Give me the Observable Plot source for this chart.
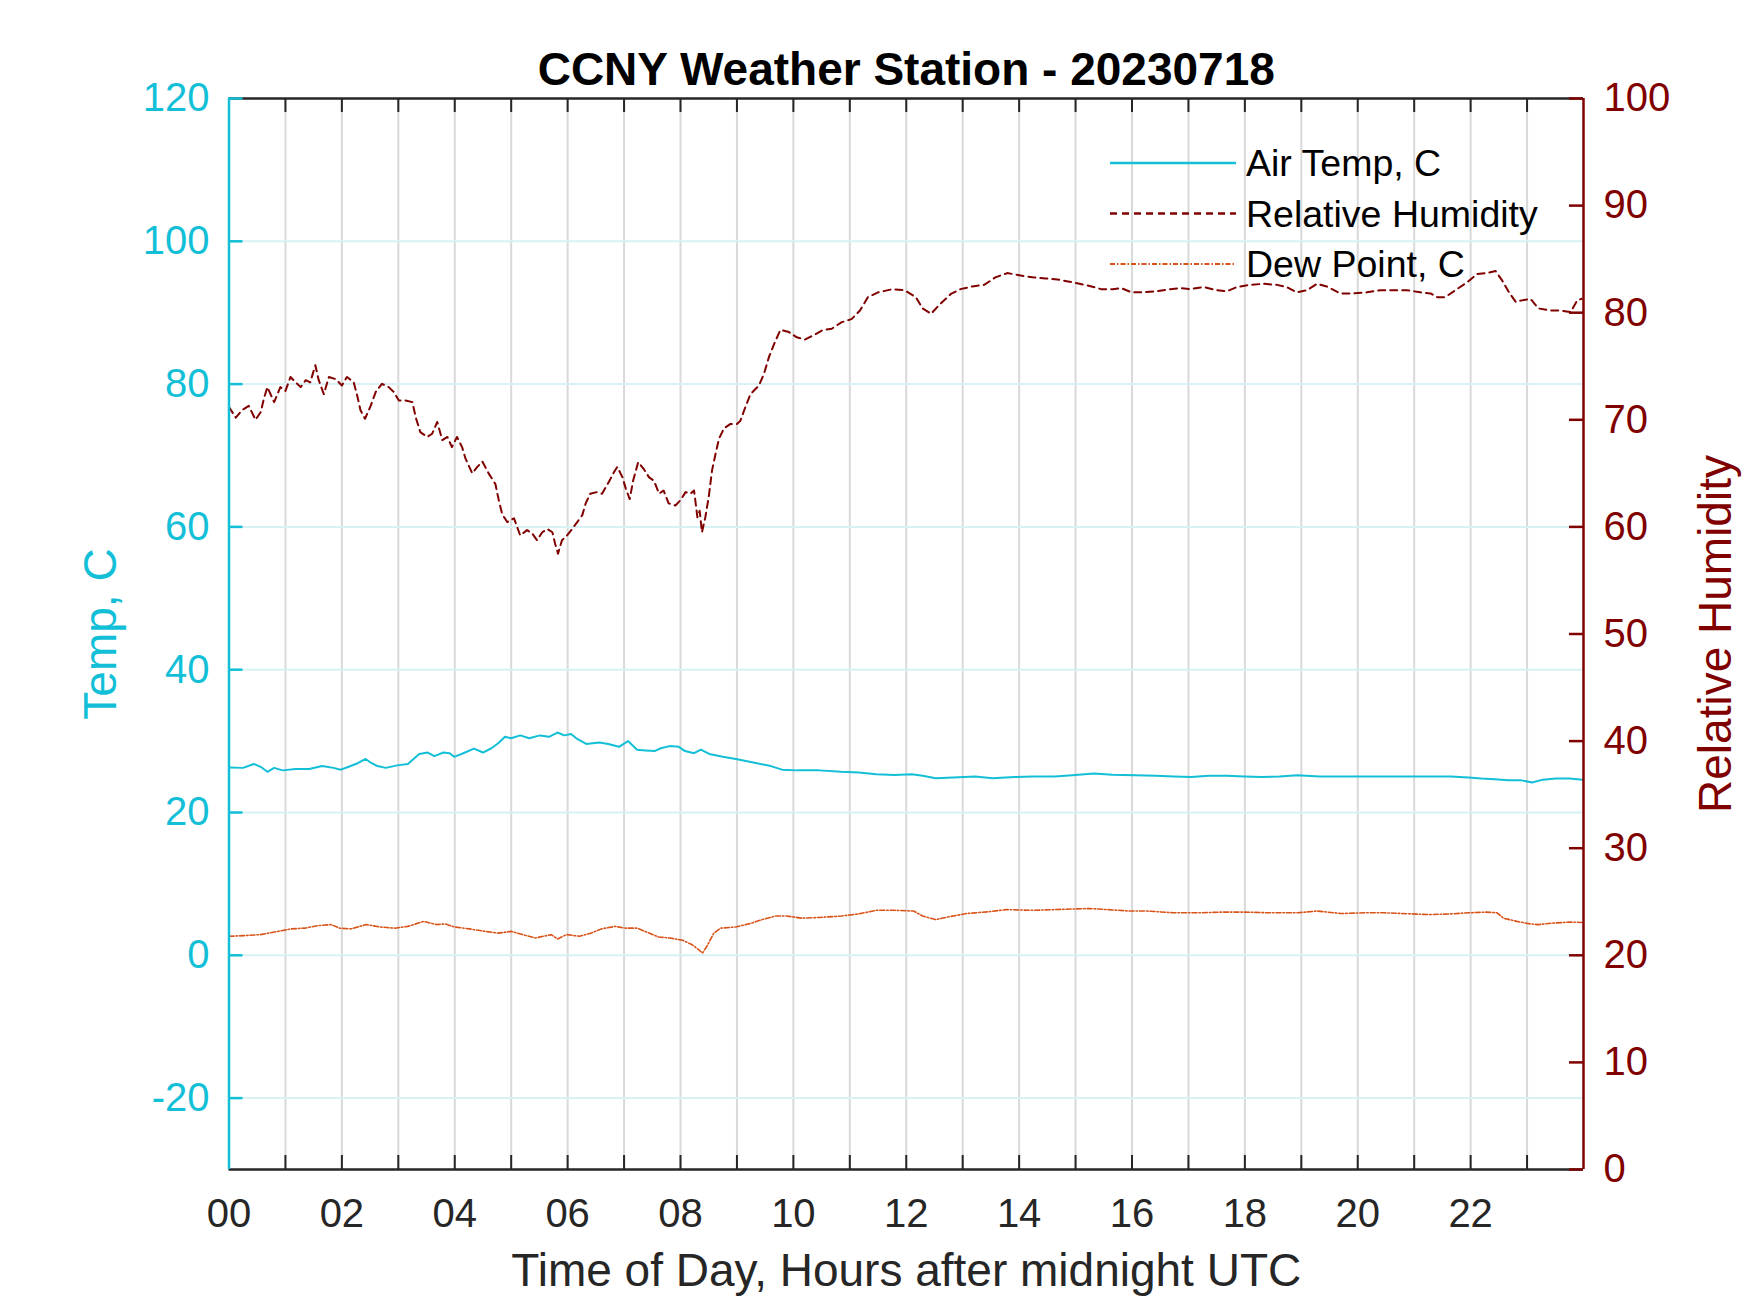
<!DOCTYPE html>
<html>
<head>
<meta charset="utf-8">
<script src="https://cdn.jsdelivr.net/npm/d3@7"></script>
<script src="https://cdn.jsdelivr.net/npm/@observablehq/plot@0.6"></script>
<style>
  html, body { margin: 0; padding: 0; background: #fff; }
  #chart { width: 1750px; height: 1313px; }
</style>
</head>
<body>
<div id="chart"></div>
<script>
// ---------------- DATA ----------------
const titleText = "CCNY Weather Station - 20230718";
const xLabel = "Time of Day, Hours after midnight UTC";
const yLeftLabel = "Temp, C";
const yRightLabel = "Relative Humidity";
const seriesNames = ["Air Temp, C", "Relative Humidity", "Dew Point, C"];

const xTickLabelHours = [0, 2, 4, 6, 8, 10, 12, 14, 16, 18, 20, 22];
const hourGrid = [1,2,3,4,5,6,7,8,9,10,11,12,13,14,15,16,17,18,19,20,21,22,23];
const tempTicks = [-20, 0, 20, 40, 60, 80, 100, 120];
const tempGrid = [-20, 0, 20, 40, 60, 80, 100];
const rhTicks = [0, 10, 20, 30, 40, 50, 60, 70, 80, 90, 100];

// Air temperature (C)
const tempHour = [0,0.25,0.44,0.56,0.68,0.8,0.95,1.18,1.42,1.65,1.85,1.98,2.12,2.28,2.42,2.51,2.63,2.78,2.98,3.17,3.37,3.52,3.64,3.8,3.91,3.99,4.15,4.34,4.5,4.65,4.77,4.89,5.0,5.16,5.32,5.51,5.67,5.82,5.94,6.06,6.17,6.33,6.56,6.72,6.91,7.07,7.23,7.38,7.54,7.65,7.81,7.97,8.08,8.24,8.36,8.51,8.75,8.98,9.29,9.6,9.8,10.07,10.46,10.85,11.16,11.47,11.79,12.1,12.29,12.52,12.83,13.22,13.53,13.92,14.24,14.63,14.94,15.33,15.65,16.04,16.43,16.74,17.05,17.36,17.68,17.99,18.3,18.61,18.93,19.32,19.71,20.1,20.48,20.86,21.26,21.65,21.96,22.19,22.43,22.66,22.9,23.09,23.28,23.51,23.75,23.98];
const tempValue = [26.3,26.25,26.8,26.4,25.7,26.25,25.9,26.1,26.1,26.5,26.25,26.0,26.4,26.9,27.5,27.0,26.5,26.25,26.6,26.8,28.2,28.4,27.9,28.4,28.3,27.8,28.3,28.95,28.4,29.0,29.7,30.6,30.4,30.8,30.4,30.8,30.6,31.2,30.8,31.0,30.3,29.6,29.8,29.6,29.2,30.0,28.8,28.7,28.6,29.0,29.3,29.2,28.6,28.3,28.8,28.2,27.8,27.5,27.0,26.5,26.0,25.9,25.9,25.7,25.6,25.35,25.25,25.35,25.15,24.8,24.9,25.05,24.8,24.97,25.05,25.05,25.2,25.45,25.3,25.2,25.15,25.05,24.97,25.15,25.15,25.05,24.97,25.05,25.2,25.05,25.05,25.05,25.05,25.05,25.05,25.05,24.9,24.75,24.65,24.5,24.5,24.2,24.6,24.75,24.75,24.6];

// Relative humidity (%)
const rhHour = [0,0.12,0.23,0.35,0.47,0.56,0.62,0.68,0.8,0.91,1.0,1.09,1.18,1.27,1.36,1.44,1.53,1.59,1.68,1.77,1.89,2.0,2.09,2.21,2.27,2.33,2.41,2.51,2.6,2.71,2.83,2.92,3.01,3.13,3.25,3.31,3.39,3.51,3.6,3.69,3.78,3.87,3.95,4.04,4.13,4.19,4.31,4.4,4.49,4.6,4.72,4.78,4.84,4.93,5.05,5.16,5.28,5.37,5.46,5.55,5.64,5.73,5.78,5.83,5.9,5.99,6.08,6.17,6.26,6.32,6.4,6.52,6.61,6.73,6.82,6.88,6.97,7.03,7.1,7.16,7.25,7.35,7.44,7.53,7.62,7.7,7.79,7.91,8.0,8.09,8.18,8.24,8.3,8.34,8.38,8.44,8.5,8.56,8.62,8.68,8.77,8.88,9.0,9.06,9.15,9.24,9.39,9.48,9.57,9.66,9.77,9.92,10.06,10.21,10.36,10.53,10.68,10.85,11.03,11.18,11.32,11.5,11.76,11.97,12.17,12.29,12.44,12.58,12.79,12.96,13.17,13.38,13.58,13.79,14.0,14.24,14.47,14.68,14.89,15.07,15.25,15.45,15.66,15.81,15.99,16.2,16.44,16.68,16.86,17.03,17.27,17.5,17.68,17.86,18.09,18.33,18.57,18.74,18.92,19.1,19.28,19.45,19.69,19.93,20.16,20.4,20.64,20.87,21.11,21.29,21.41,21.55,21.73,21.94,22.11,22.29,22.44,22.56,22.68,22.8,22.91,23.06,23.2,23.41,23.59,23.77,23.89,23.97];
const rhValue = [71.2,70.2,70.9,71.3,70.0,70.7,72.0,73.05,71.65,73.05,72.7,74.0,73.5,73.05,73.7,73.5,75.1,73.7,72.4,74.0,73.8,73.2,74.0,73.5,72.3,70.9,70.1,71.3,72.6,73.36,73.05,72.6,71.8,71.8,71.65,70.2,68.85,68.4,68.7,69.8,68.1,68.4,67.45,68.4,67.45,66.4,65.0,65.6,66.1,65.0,64.0,62.5,61.2,60.45,60.8,59.2,59.7,59.4,58.75,59.5,59.8,59.5,58.4,57.5,58.75,59.2,59.8,60.45,61.1,62.2,63.1,63.25,63.1,64.2,65.1,65.6,64.65,63.6,62.6,64.3,66.05,65.4,64.65,64.3,63.1,63.4,62.2,62.0,62.5,63.25,63.1,63.4,60.9,61.5,59.5,60.9,62.8,65.3,66.8,68.2,69.2,69.6,69.6,69.9,71.2,72.4,73.2,74.3,75.9,77.1,78.4,78.2,77.7,77.5,77.9,78.4,78.5,79.1,79.4,80.2,81.45,81.9,82.2,82.1,81.45,80.4,79.9,80.7,81.75,82.2,82.45,82.6,83.3,83.7,83.5,83.3,83.2,83.1,82.9,82.7,82.5,82.2,82.2,82.3,81.9,81.9,82.0,82.2,82.3,82.2,82.4,82.1,82.0,82.4,82.6,82.7,82.6,82.4,81.9,82.1,82.7,82.45,81.8,81.8,81.9,82.1,82.1,82.1,81.9,81.8,81.45,81.45,82.1,82.85,83.6,83.7,83.9,83.0,81.9,81.0,81.15,81.3,80.4,80.2,80.2,80.05,81.15,81.3];

// Dew point (C)
const dewHour = [0,0.25,0.56,0.87,1.1,1.34,1.57,1.81,1.96,2.16,2.43,2.67,2.94,3.17,3.45,3.68,3.83,3.99,4.26,4.54,4.77,5.0,5.2,5.43,5.71,5.82,5.98,6.21,6.41,6.6,6.84,7.03,7.23,7.42,7.61,7.81,8.04,8.2,8.32,8.39,8.47,8.59,8.71,8.98,9.21,9.45,9.68,9.88,10.15,10.46,10.85,11.16,11.47,11.79,12.13,12.29,12.52,12.76,13.07,13.46,13.77,14.24,14.63,15.02,15.25,15.56,15.96,16.27,16.74,17.2,17.59,17.99,18.45,18.93,19.28,19.71,20.1,20.48,20.95,21.26,21.65,21.96,22.27,22.47,22.58,22.82,23.05,23.2,23.44,23.75,23.98];
const dewValue = [2.66,2.75,2.9,3.35,3.7,3.8,4.15,4.3,3.8,3.7,4.3,3.97,3.8,4.05,4.75,4.3,4.4,3.97,3.7,3.35,3.1,3.35,2.9,2.43,2.9,2.29,2.9,2.66,3.1,3.7,4.05,3.8,3.8,3.2,2.56,2.43,2.1,1.5,0.8,0.3,1.3,3.1,3.8,3.97,4.4,5.0,5.5,5.5,5.2,5.3,5.5,5.8,6.3,6.3,6.2,5.5,5.0,5.4,5.85,6.1,6.4,6.3,6.4,6.5,6.55,6.4,6.2,6.2,5.95,5.95,6.05,6.05,5.95,5.95,6.2,5.85,5.95,5.95,5.8,5.7,5.8,5.95,6.05,5.95,5.2,4.75,4.4,4.3,4.5,4.65,4.6];

// ---------------- BUILD ----------------
const cyan = "#12BFD7";
const maroon = "#800000";
const orange = "#D95319";
const axisGray = "#262626";

const W = 1750, H = 1313;
const mL = 228.5, mR = 167, mT = 98, mB = 144;
const plotW = W - mL - mR, plotH = H - mT - mB;

// map RH onto the temperature scale (right axis 0..100 <-> left -30..120)
const rhToT = r => -30 + r * 1.5;
const tToRh = t => (t + 30) / 1.5;

const temp = tempHour.map((h, i) => ({h, v: tempValue[i]}));
const rh = rhHour.map((h, i) => ({h, v: rhToT(rhValue[i])}));
const dew = dewHour.map((h, i) => ({h, v: dewValue[i]}));

const font = "'Liberation Sans', Arial, Helvetica, sans-serif";

const chart = Plot.plot({
  width: W, height: H,
  marginLeft: mL, marginRight: mR, marginTop: mT, marginBottom: mB,
  style: {fontFamily: font, background: "white", overflow: "visible"},
  x: {domain: [0, 24], axis: null},
  y: {domain: [-30, 120], axis: null},
  marks: [
    // grid
    Plot.ruleX(hourGrid, {x: d => d, stroke: "#d9d9d9", strokeWidth: 2}),
    Plot.ruleY(tempGrid, {y: d => d, stroke: "#d8f1f5", strokeWidth: 2}),
    // data
    Plot.line(dew, {x: "h", y: "v", stroke: orange, strokeWidth: 1.6, strokeDasharray: "5,2,1.5,2"}),
    Plot.line(temp, {x: "h", y: "v", stroke: cyan, strokeWidth: 2}),
    Plot.line(rh, {x: "h", y: "v", stroke: maroon, strokeWidth: 2, strokeDasharray: "7,5"}),
    // box
    Plot.ruleY([120], {y: d => d, stroke: axisGray, strokeWidth: 2.5}),
    Plot.ruleY([-30], {y: d => d, stroke: axisGray, strokeWidth: 2.5}),
    // tick marks (inward)
    Plot.ruleX(hourGrid, {x: d => d, stroke: axisGray, strokeWidth: 2, insetBottom: plotH - 14}),
    Plot.ruleX(hourGrid, {x: d => d, stroke: axisGray, strokeWidth: 2, insetTop: plotH - 14}),
    Plot.ruleY(tempTicks, {y: d => d, stroke: cyan, strokeWidth: 2.5, insetRight: plotW - 14}),
    Plot.ruleY(rhTicks.map(rhToT), {y: d => d, stroke: maroon, strokeWidth: 2.5, insetLeft: plotW - 14}),
    Plot.ruleX([0], {x: d => d, stroke: cyan, strokeWidth: 2.5}),
    Plot.ruleX([24], {x: d => d, stroke: maroon, strokeWidth: 2.5}),
    // axes labels
    Plot.axisX({ticks: xTickLabelHours, tickFormat: d => String(d).padStart(2, "0"),
      tickSize: 0, tickPadding: 29, fontSize: 40, color: axisGray, label: null}),
    Plot.axisY({ticks: tempTicks, tickFormat: d => String(d), anchor: "left",
      tickSize: 0, tickPadding: 19.5, fontSize: 40, color: cyan, label: null}),
    Plot.axisY({ticks: rhTicks.map(rhToT), tickFormat: t => String(Math.round(tToRh(t))), anchor: "right",
      tickSize: 0, tickPadding: 20, fontSize: 40, color: maroon, label: null}),
    // titles
    Plot.text([titleText], {text: d => d, frameAnchor: "top", dy: -28, lineAnchor: "middle", textAnchor: "middle",
      fontSize: 46, fontWeight: "bold", fill: "black"}),
    Plot.text([xLabel], {text: d => d, frameAnchor: "bottom", dy: 101.5, lineAnchor: "middle", textAnchor: "middle",
      fontSize: 46, fill: axisGray}),
    Plot.text([yLeftLabel], {text: d => d, frameAnchor: "left", dx: -127.5, rotate: -90, lineAnchor: "middle",
      textAnchor: "middle", fontSize: 46, fill: cyan}),
    Plot.text([yRightLabel], {text: d => d, frameAnchor: "right", dx: 133, rotate: -90, lineAnchor: "middle",
      textAnchor: "middle", fontSize: 46, fill: maroon})
  ]
});

document.getElementById("chart").appendChild(chart);

// ---------------- LEGEND ----------------
const svg = d3.select(chart);
const legendItems = [
  {name: seriesNames[0], color: cyan, dash: null, width: 2.5},
  {name: seriesNames[1], color: maroon, dash: "7,5", width: 2.5},
  {name: seriesNames[2], color: orange, dash: "5,2,1.5,2", width: 2.2}
];
const lg = svg.append("g").attr("font-family", font).attr("font-size", 37.5).attr("text-anchor", "start");
legendItems.forEach((it, i) => {
  const y = 163 + i * 50.5;
  const ln = lg.append("line").attr("x1", 1110).attr("x2", 1236).attr("y1", y).attr("y2", y)
    .attr("stroke", it.color).attr("stroke-width", it.width);
  if (it.dash) ln.attr("stroke-dasharray", it.dash);
  lg.append("text").attr("x", 1246).attr("y", y).attr("dy", "0.35em")
    .attr("text-anchor", "start").attr("fill", "black").text(it.name);
});
</script>
</body>
</html>
